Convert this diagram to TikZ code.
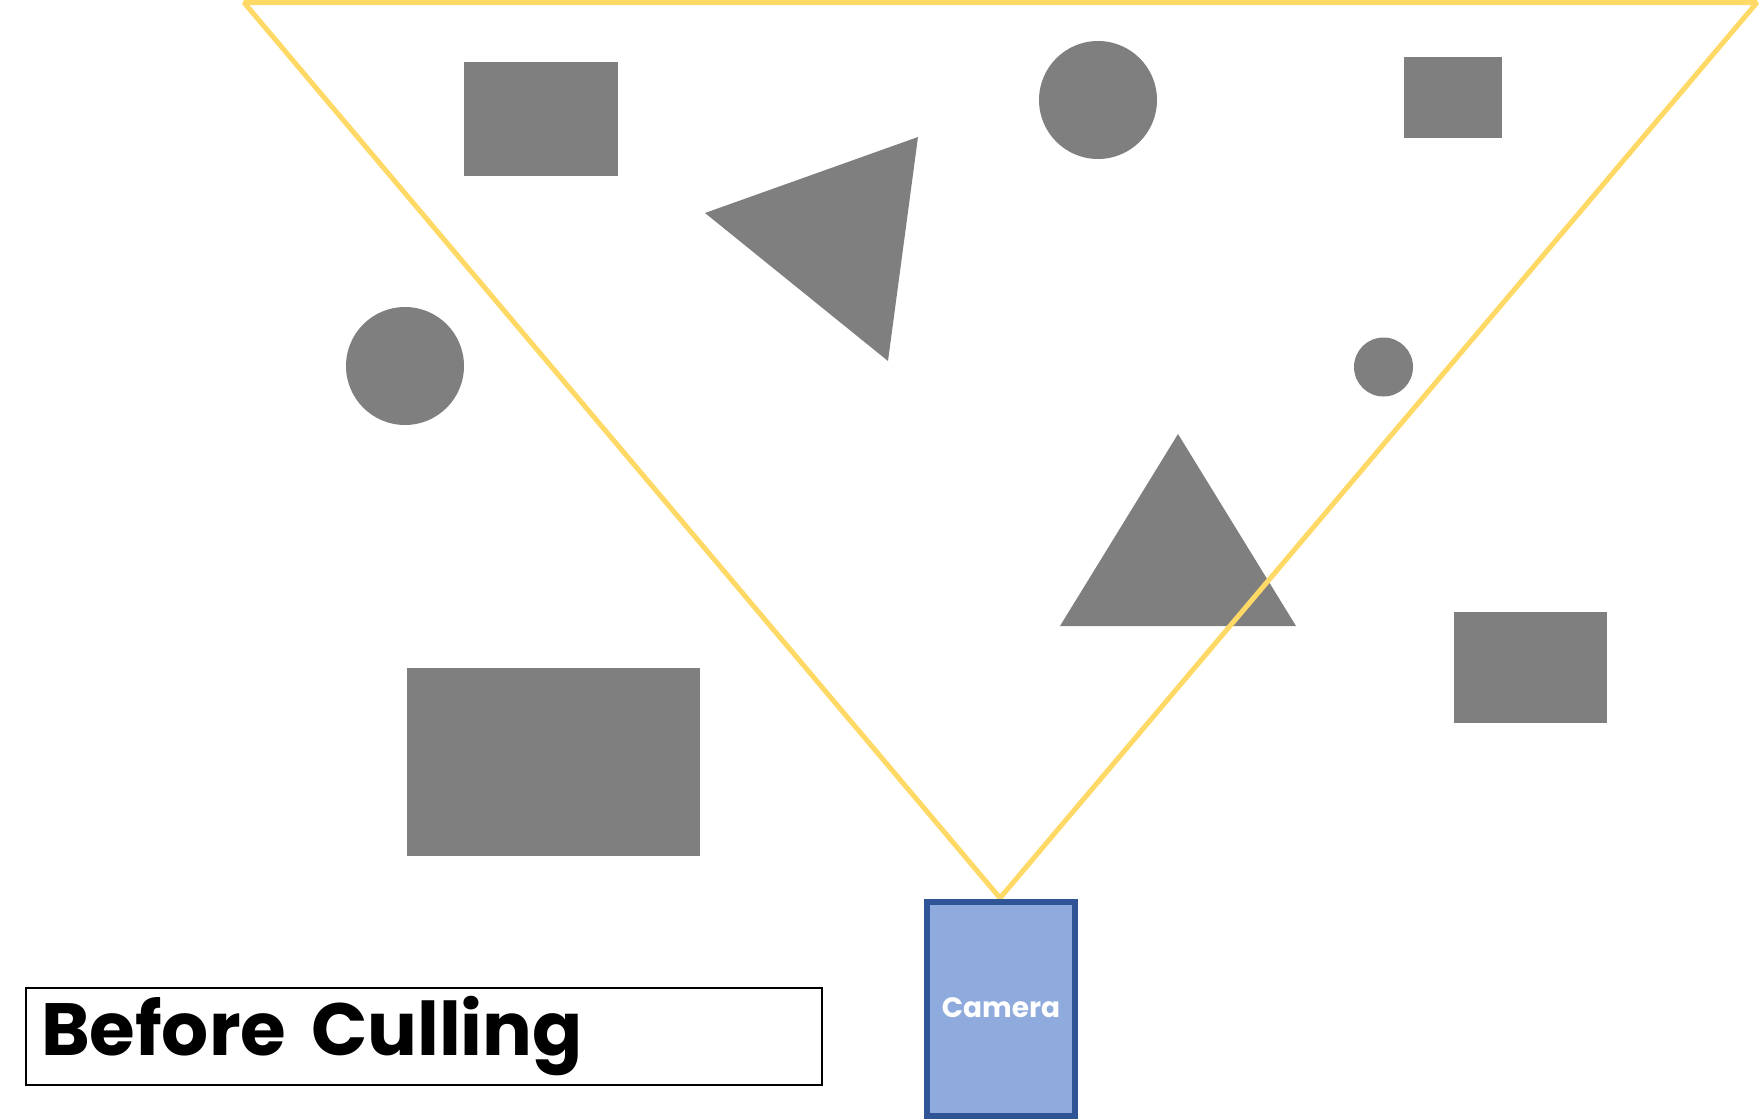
\documentclass[tikz,border=0pt]{standalone}
\usepackage{fontspec}
\setmainfont{Poppins}
\definecolor{viewyellow}{HTML}{FFD966}
\definecolor{objgray}{HTML}{7F7F7F}
\definecolor{camfill}{HTML}{8FAADC}
\definecolor{camline}{HTML}{2F5597}

\begin{document}
\begin{tikzpicture}[x=1pt,y=-1pt,
	obj/.style={fill=objgray,draw=none},
	frustum/.style={draw=viewyellow,line width=5pt,line join=bevel},
	cambox/.style={draw=camline,fill=camfill,line width=6pt,minimum width=148pt,minimum height=214pt,inner sep=0pt,text=white,font=\bfseries\fontsize{28}{34}\selectfont},
	titlebox/.style={draw=black,line width=2pt,minimum width=796pt,minimum height=97pt,inner xsep=15pt,text width=766pt,align=left,font=\bfseries\fontsize{74}{84}\selectfont}]
	\useasboundingbox (0,0) rectangle (1761,1119);
	\coordinate (Apex) at (1000,898);
	\coordinate (FarL) at (244,2.5);
	\coordinate (FarR) at (1757,2.5);
	
	\fill[obj] (464,62) rectangle (618,176);
	\fill[obj] (1404,57) rectangle (1502,138);
	\fill[obj] (407,668) rectangle (700,856);
	\fill[obj] (1454,612) rectangle (1607,723);
	\fill[obj] (1098,100) circle (59);
	\fill[obj] (405,366) circle (59);
	\fill[obj] (1383.5,367) circle (29.5);
	\fill[obj] (705,213) -- (918,137) -- (888,361) -- cycle;
	\fill[obj] (1178,434) -- (1296,626) -- (1060,626) -- cycle;
	
	\draw[frustum] (Apex) -- (FarL) -- (FarR) -- cycle;
	
	\node[cambox] (cam) at (1001,1009) {\raisebox{2pt}{Camera}};
	\node[titlebox] (title) at (424,1036.5) {Before Culling};
\end{tikzpicture}
\end{document}
